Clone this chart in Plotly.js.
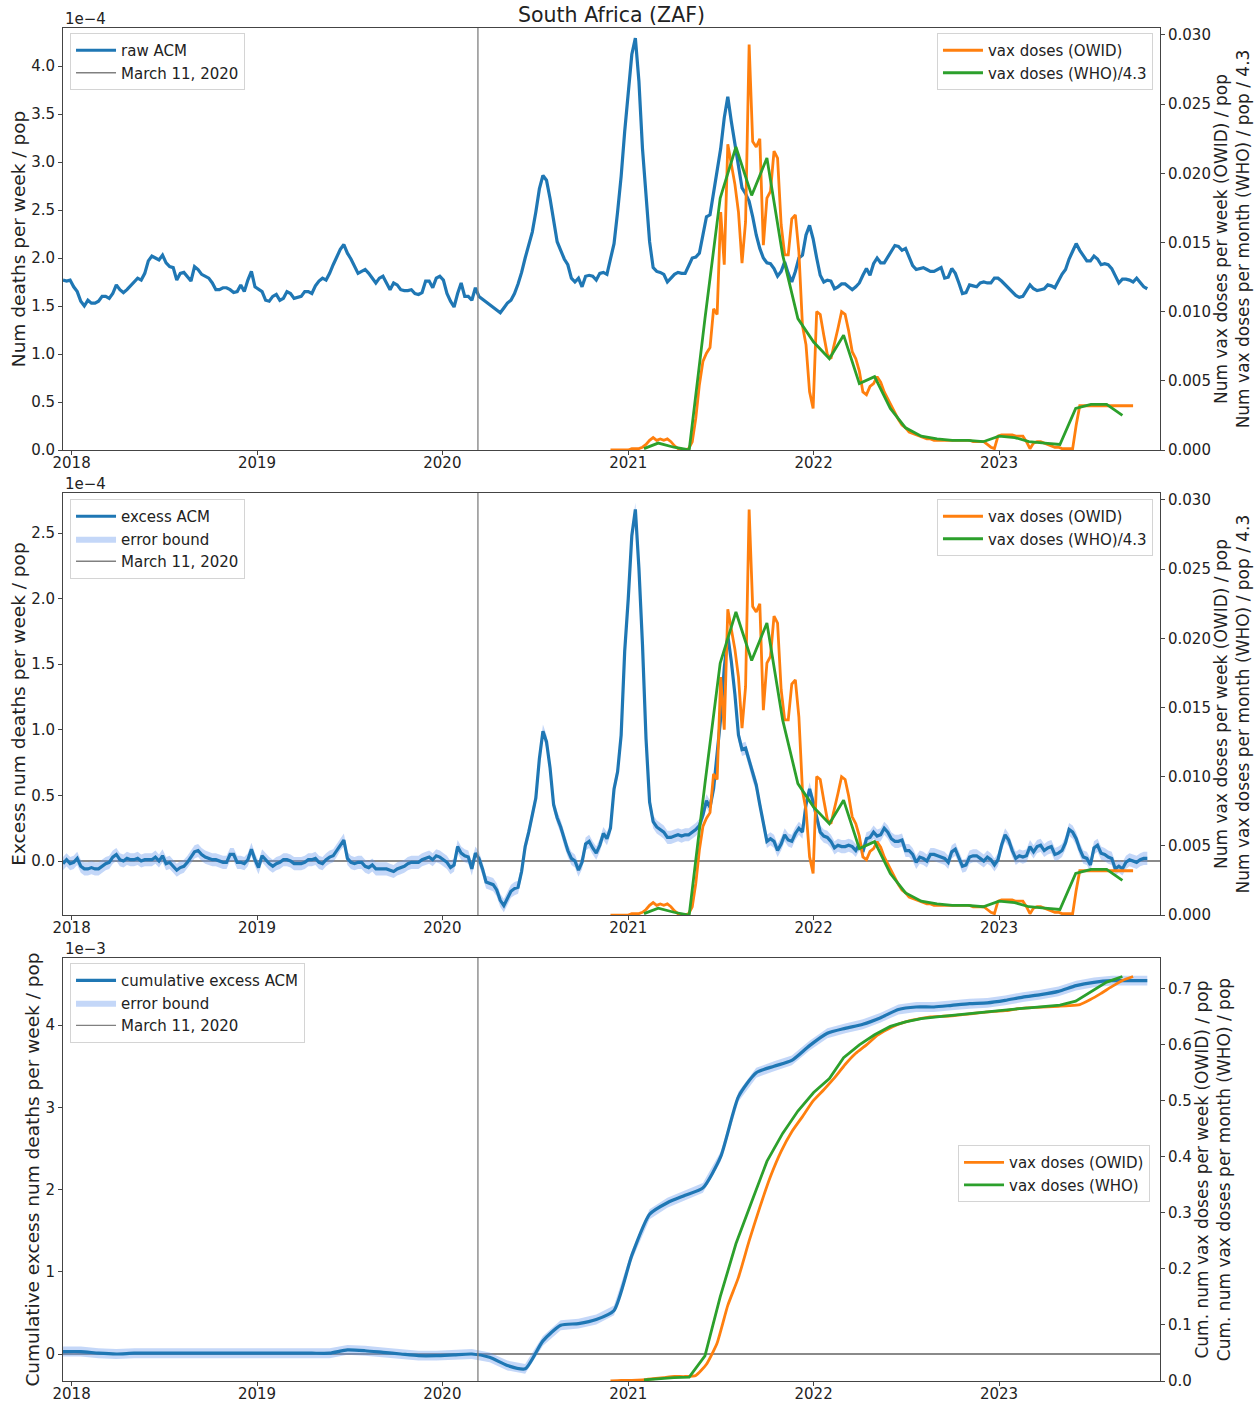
<!DOCTYPE html>
<html><head><meta charset="utf-8">
<script src="https://cdn.plot.ly/plotly-3.0.1.min.js"></script>
<style>html,body{margin:0;padding:0;background:#fff}#chart{width:1258px;height:1405px}</style>
</head><body><div id="chart"></div>
<script>
// ---------------- DATA ----------------
const countryTitle = 'South Africa (ZAF)';
const pandemicDate = '2020-03-11';
const weekStart = '2017-12-15';           // first weekly ACM point

// raw all-cause mortality per week / pop, units of 1e-4
const rawAcmE4 = [
1.77,1.76,1.77,1.70,1.65,1.55,1.50,1.56,1.53,1.53,
1.55,1.60,1.60,1.58,1.63,1.72,1.67,1.64,1.67,1.71,
1.76,1.79,1.77,1.84,1.97,2.02,2.00,1.98,2.03,1.95,
1.91,1.90,1.77,1.84,1.85,1.81,1.76,1.91,1.88,1.83,
1.81,1.79,1.74,1.67,1.67,1.69,1.69,1.67,1.64,1.65,
1.72,1.65,1.77,1.86,1.70,1.67,1.65,1.56,1.55,1.60,
1.62,1.56,1.58,1.65,1.63,1.58,1.59,1.60,1.65,1.65,
1.63,1.71,1.76,1.79,1.77,1.84,1.93,2.02,2.09,2.14,
2.05,1.99,1.91,1.84,1.86,1.88,1.84,1.79,1.74,1.79,
1.81,1.74,1.67,1.74,1.72,1.67,1.66,1.66,1.67,1.63,
1.62,1.64,1.76,1.76,1.69,1.79,1.81,1.77,1.63,1.55,
1.49,1.63,1.74,1.60,1.60,1.56,1.69,1.60,1.57,1.54,
1.51,1.49,1.46,1.43,1.48,1.53,1.56,1.63,1.73,1.85,
2.00,2.14,2.27,2.48,2.72,2.86,2.81,2.62,2.38,2.17,
2.08,1.99,1.93,1.79,1.75,1.79,1.70,1.81,1.82,1.81,
1.77,1.84,1.85,1.83,1.99,2.15,2.48,2.85,3.32,3.73,
4.12,4.29,3.84,3.14,2.62,2.17,1.90,1.86,1.85,1.83,
1.75,1.79,1.83,1.85,1.84,1.84,1.93,2.00,2.01,2.05,
2.24,2.43,2.45,2.69,2.90,3.14,3.46,3.68,3.42,3.18,
2.93,2.73,2.67,2.59,2.43,2.24,2.10,2.00,1.95,1.94,
1.89,1.81,1.86,1.96,1.84,1.75,1.86,2.00,2.03,2.24,
2.34,2.20,2.00,1.82,1.75,1.77,1.76,1.68,1.70,1.73,
1.73,1.70,1.67,1.70,1.74,1.82,1.89,1.82,1.94,2.00,
1.95,1.95,2.01,2.06,2.13,2.12,2.08,2.10,2.01,1.92,
1.88,1.89,1.90,1.88,1.86,1.86,1.88,1.90,1.79,1.80,
1.89,1.84,1.74,1.63,1.64,1.72,1.71,1.70,1.74,1.75,
1.74,1.74,1.79,1.79,1.76,1.72,1.68,1.65,1.61,1.59,
1.60,1.66,1.72,1.68,1.66,1.67,1.68,1.72,1.71,1.69,
1.77,1.83,1.88,1.99,2.07,2.15,2.08,2.02,1.97,1.97,
2.02,1.99,1.93,1.94,1.93,1.89,1.82,1.74,1.78,1.78,
1.77,1.75,1.79,1.75,1.70,1.68];

// excess ACM per week / pop, units of 1e-4
const excessAcmE4 = [
-0.02,0.01,-0.02,-0.01,0.02,-0.04,-0.06,-0.06,-0.05,-0.06,
-0.06,-0.04,-0.02,-0.01,0.03,0.05,0.01,0.00,0.02,0.01,
0.01,0.02,0.00,0.01,0.01,0.01,0.03,0.00,0.04,-0.02,
-0.01,-0.04,-0.07,-0.05,-0.04,-0.01,0.03,0.07,0.08,0.05,
0.03,0.02,0.01,0.01,0.00,-0.01,-0.01,0.05,0.05,-0.01,
-0.01,-0.02,0.01,0.09,0.01,-0.05,0.04,0.01,-0.02,-0.04,
-0.02,-0.01,0.01,0.01,0.00,-0.02,-0.02,-0.02,-0.01,0.01,
0.01,0.02,-0.01,-0.02,0.01,0.03,0.04,0.08,0.13,0.16,
0.02,-0.01,-0.02,-0.01,-0.01,-0.04,-0.05,-0.03,-0.06,-0.06,
-0.06,-0.06,-0.07,-0.08,-0.06,-0.05,-0.04,-0.02,-0.01,-0.01,
-0.01,0.01,0.02,0.03,0.01,0.04,0.03,0.01,-0.01,-0.05,
-0.03,0.11,0.06,0.04,0.03,-0.06,0.06,0.02,-0.06,-0.16,
-0.17,-0.18,-0.22,-0.30,-0.34,-0.28,-0.23,-0.21,-0.20,-0.08,
0.11,0.22,0.34,0.48,0.78,0.99,0.91,0.71,0.43,0.33,
0.26,0.16,0.08,0.02,0.00,-0.07,-0.01,0.13,0.15,0.10,
0.06,0.12,0.21,0.17,0.25,0.55,0.68,0.96,1.60,2.00,
2.48,2.68,2.23,1.65,0.93,0.45,0.30,0.26,0.24,0.22,
0.18,0.18,0.19,0.20,0.19,0.20,0.20,0.22,0.24,0.27,
0.35,0.46,0.41,0.55,0.80,1.09,1.47,1.72,1.52,1.27,
0.96,0.85,0.86,0.76,0.66,0.58,0.43,0.29,0.15,0.17,
0.15,0.08,0.13,0.20,0.16,0.15,0.21,0.25,0.22,0.43,
0.55,0.45,0.33,0.22,0.19,0.18,0.15,0.10,0.12,0.11,
0.11,0.12,0.11,0.08,0.13,0.07,0.17,0.18,0.22,0.19,
0.20,0.25,0.22,0.17,0.15,0.15,0.16,0.08,0.08,0.05,
-0.01,0.03,0.02,0.00,0.05,0.05,0.04,0.03,0.02,-0.01,
0.07,0.09,0.03,-0.04,-0.03,0.03,0.04,0.04,0.02,0.00,
0.03,0.01,-0.03,0.01,0.12,0.20,0.16,0.08,0.02,0.04,
0.03,0.04,0.11,0.07,0.11,0.12,0.08,0.10,0.11,0.05,
0.06,0.08,0.14,0.24,0.22,0.17,0.09,0.03,0.02,-0.03,
0.10,0.12,0.06,0.05,0.03,0.02,-0.06,-0.04,-0.06,-0.01,
0.01,0.00,-0.01,0.01,0.02,0.02];
const excessErrE4 = 0.05;   // half-width of the error bound

// cumulative excess ACM, units of 1e-3, every 5 weeks from weekStart
const cumStepWeeks = 5;
const cumExcessE3 = [
0.03,0.03,0.01,0.00,0.01,0.01,0.01,0.01,0.01,0.01,
0.01,0.01,0.01,0.01,0.01,0.01,0.05,0.04,0.02,0.00,
-0.02,-0.02,-0.01,0.00,-0.04,-0.14,-0.18,0.16,0.35,0.37,
0.42,0.53,1.20,1.70,1.84,1.93,2.02,2.40,3.13,3.42,
3.50,3.57,3.75,3.90,3.96,4.01,4.09,4.19,4.22,4.22,
4.24,4.26,4.27,4.30,4.34,4.37,4.41,4.48,4.52,4.54,
4.54,4.54];
const cumErrE3 = 0.06;

// OWID weekly vax doses / pop, from week offset 154
const owidOffsetWeeks = 154;
const vaxOwidWeekly = [
0,0,0,0,0,0,0.0001,0.0001,0.0001,0.0002,
0.0004,0.0007,0.0009,0.0007,0.0008,0.0007,0.0008,0.0006,0.0003,0.0001,
0,0,0.0001,0.0006,0.0023,0.0047,0.0064,0.0070,0.0074,0.0102,
0.0098,0.0172,0.0134,0.0221,0.0206,0.0192,0.0172,0.0135,0.0165,0.0293,
0.0223,0.0219,0.0225,0.0148,0.0182,0.0187,0.0216,0.0211,0.0163,0.0141,
0.0141,0.0167,0.0170,0.0143,0.0090,0.0076,0.0042,0.0030,0.0100,0.0098,
0.0083,0.0069,0.0066,0.0076,0.0088,0.0100,0.0098,0.0086,0.0071,0.0066,
0.0057,0.0042,0.0040,0.0046,0.0048,0.0053,0.0049,0.0042,0.0037,0.0031,
0.0027,0.0022,0.0018,0.0016,0.0013,0.0012,0.0011,0.0010,0.0009,0.0008,
0.0008,0.0007,0.0007,0.0007,0.0007,0.0007,0.0007,0.0007,0.0007,0.0007,
0.0007,0.0007,0.0006,0.0006,0.0006,0.0006,0.0004,0.0002,0.0001,0.0010,
0.0011,0.0011,0.0011,0.0011,0.0010,0.0010,0.0010,0.0006,0.0001,0.0005,
0.0006,0.0006,0.0005,0.0004,0.0003,0.0002,0.0002,0.0001,0.0001,0.0001,
0.0001,0.0018,0.0032,0.0032,0.0032,0.0032,0.0032,0.0032,0.0032,0.0032,
0.0032,0.0032,0.0032,0.0032,0.0032,0.0032,0.0032,0.0032];

// WHO monthly vax doses / pop / 4.3, month starts from Feb 2021
const whoStartYear = 2021, whoStartMonth = 2;
const vaxWhoMonthlyDiv43 = [
0.0001,0.0005,0.0002,0.0000,0.0095,0.0182,0.0219,0.0184,0.0211,0.0141,0.0095,
0.0078,0.0066,0.0083,0.0048,0.0053,0.0030,0.0016,0.0010,0.0008,0.0007,0.0007,0.0006,
0.0010,0.0009,0.0006,0.0005,0.0004,0.0030,0.0033,0.0033,0.0025];

// cumulative vax doses / pop
const cumOwidStepWeeks = 3;
const cumVaxOwid = [
0.000,0.001,0.001,0.002,0.004,0.006,0.008,0.008,0.010,0.030,
0.068,0.135,0.185,0.250,0.310,0.365,0.410,0.445,0.472,0.500,
0.520,0.541,0.565,0.585,0.600,0.617,0.628,0.637,0.643,0.647,
0.650,0.651,0.652,0.654,0.656,0.658,0.660,0.661,0.664,0.666,
0.667,0.668,0.669,0.670,0.672,0.681,0.692,0.704,0.715,0.722];
const cumVaxWho = [
0.002,0.004,0.006,0.007,0.045,0.150,0.245,0.320,0.392,0.442,0.482,
0.515,0.540,0.577,0.600,0.618,0.633,0.641,0.647,0.650,0.653,0.656,0.658,
0.661,0.664,0.666,0.669,0.671,0.678,0.695,0.712,0.722];

// ---------------- helpers ----------------
function addDays(iso, days){ const d = new Date(iso + 'T00:00:00Z'); d.setUTCDate(d.getUTCDate() + days); return d.toISOString().slice(0,10); }
function weeklyDates(offsetWeeks, count, step){ const o=[]; for(let k=0;k<count;k++) o.push(addDays(weekStart, (offsetWeeks + k*step)*7)); return o; }
function monthStarts(y, m, count){ const o=[]; for(let k=0;k<count;k++){ const d=new Date(Date.UTC(y, m-1+k, 1)); o.push(d.toISOString().slice(0,10)); } return o; }

const acmDates = weeklyDates(0, rawAcmE4.length, 1);
const cumDates = weeklyDates(0, cumExcessE3.length, cumStepWeeks);
const owidDates = weeklyDates(owidOffsetWeeks, vaxOwidWeekly.length, 1);
const owidCumDates = weeklyDates(owidOffsetWeeks, cumVaxOwid.length, cumOwidStepWeeks);
const whoDates = monthStarts(whoStartYear, whoStartMonth, vaxWhoMonthlyDiv43.length);
const whoCumDates = monthStarts(whoStartYear, whoStartMonth, cumVaxWho.length);

// ---------------- style ----------------
const FONT = 'DejaVu Sans';
const C_BLUE = '#1f77b4', C_ORANGE = '#ff7f0e', C_GREEN = '#2ca02c', C_VLINE = '#808080';
const BAND = 'rgba(100,149,237,0.38)';
const X_RANGE = ['2017-12-15', '2023-11-14'];
const R1 = [0, 4.396], R1b = [0, 0.0305];
const R2 = [-0.4116, 2.805], R2b = [0, 0.0305];
const R3 = [-0.328, 4.815], R3b = [0, 0.755];

function band(x, y, err){
  const up = y.map(v => v + err), lo = y.map(v => v - err);
  return { x: x.concat(x.slice().reverse()), y: up.concat(lo.reverse()) };
}
const b2 = band(acmDates, excessAcmE4, excessErrE4);
const b3 = band(cumDates, cumExcessE3, cumErrE3);

const traces = [
  // panel 1
  {x: acmDates, y: rawAcmE4, xaxis:'x', yaxis:'y', mode:'lines', name:'raw ACM', line:{color:C_BLUE, width:3.2}, legend:'legend', legendrank:1},
  {x: [pandemicDate, pandemicDate], y: R1, xaxis:'x', yaxis:'y', mode:'lines', name:'March 11, 2020', line:{color:C_VLINE, width:1.3}, legend:'legend', legendrank:2},
  {x: owidDates, y: vaxOwidWeekly, xaxis:'x', yaxis:'y2', mode:'lines', name:'vax doses (OWID)', line:{color:C_ORANGE, width:2.8}, legend:'legend2', legendrank:1},
  {x: whoDates, y: vaxWhoMonthlyDiv43, xaxis:'x', yaxis:'y2', mode:'lines', name:'vax doses (WHO)/4.3', line:{color:C_GREEN, width:2.8}, legend:'legend2', legendrank:2},
  // panel 2
  {x: b2.x, y: b2.y, xaxis:'x2', yaxis:'y3', mode:'lines', fill:'toself', fillcolor:BAND, line:{width:0, color:BAND}, name:'error bound', legend:'legend3', legendrank:2, hoverinfo:'skip'},
  {x: acmDates, y: excessAcmE4, xaxis:'x2', yaxis:'y3', mode:'lines', name:'excess ACM', line:{color:C_BLUE, width:3.2}, legend:'legend3', legendrank:1},
  {x: [pandemicDate, pandemicDate], y: R2, xaxis:'x2', yaxis:'y3', mode:'lines', name:'March 11, 2020', line:{color:C_VLINE, width:1.3}, legend:'legend3', legendrank:3},
  {x: owidDates, y: vaxOwidWeekly, xaxis:'x2', yaxis:'y4', mode:'lines', name:'vax doses (OWID)', line:{color:C_ORANGE, width:2.8}, legend:'legend4', legendrank:1},
  {x: whoDates, y: vaxWhoMonthlyDiv43, xaxis:'x2', yaxis:'y4', mode:'lines', name:'vax doses (WHO)/4.3', line:{color:C_GREEN, width:2.8}, legend:'legend4', legendrank:2},
  // panel 3
  {x: b3.x, y: b3.y, xaxis:'x3', yaxis:'y5', mode:'lines', fill:'toself', fillcolor:BAND, line:{width:0, color:BAND}, name:'error bound', legend:'legend5', legendrank:2, hoverinfo:'skip'},
  {x: cumDates, y: cumExcessE3, xaxis:'x3', yaxis:'y5', mode:'lines', line:{color:C_BLUE, width:3.2, shape:'spline', smoothing:0.6}, name:'cumulative excess ACM', legend:'legend5', legendrank:1},
  {x: [pandemicDate, pandemicDate], y: R3, xaxis:'x3', yaxis:'y5', mode:'lines', name:'March 11, 2020', line:{color:C_VLINE, width:1.3}, legend:'legend5', legendrank:3},
  {x: owidCumDates, y: cumVaxOwid, xaxis:'x3', yaxis:'y6', mode:'lines', name:'vax doses (OWID)', line:{color:C_ORANGE, width:2.8, shape:'spline', smoothing:0.5}, legend:'legend6', legendrank:1},
  {x: whoCumDates, y: cumVaxWho, xaxis:'x3', yaxis:'y6', mode:'lines', name:'vax doses (WHO)', line:{color:C_GREEN, width:2.8}, legend:'legend6', legendrank:2}
];

const tickFont = {family: FONT, size: 15, color: '#222'};
const leftTitleFont = {family: FONT, size: 18.5, color: '#222'};
const rightTitleFont = {family: FONT, size: 17, color: '#222'};
const AXC = '#444';
function xAx(anchor){
  return {type:'date', anchor, domain:[0,1], range:X_RANGE, tick0:'2018-01-01', dtick:'M12', tickformat:'%Y',
    ticks:'outside', ticklen:4, tickcolor:AXC, ticklabelstandoff:-5, showline:true, linecolor:AXC, linewidth:1, mirror:true,
    showgrid:false, zeroline:false, tickfont:tickFont};
}
function yLeft(anchor, domain, range, dtick, fmt, title, zl, standoff){
  return {anchor, domain, range, dtick, tickformat:fmt, ticks:'outside', ticklen:4, tickcolor:AXC,
    showline:true, linecolor:AXC, linewidth:1, mirror:true, showgrid:false,
    zeroline:zl, zerolinecolor:'#8a8a8a', zerolinewidth:1.2, tickfont:tickFont,
    title:{text:title, font:leftTitleFont, standoff}};
}
function yRight(anchor, over, range, dtick, fmt, title, standoff){
  return {anchor, overlaying:over, side:'right', range, dtick, tickformat:fmt, ticks:'outside', ticklen:4, tickcolor:AXC,
    showline:true, linecolor:AXC, linewidth:1, showgrid:false, zeroline:false, tickfont:tickFont,
    title:{text:title, font:rightTitleFont, standoff}};
}
const rightTitle = 'Num vax doses per week (OWID) / pop<br>Num vax doses per month (WHO) / pop / 4.3';
const rightTitle3 = 'Cum. num vax doses per week (OWID) / pop<br>Cum. num vax doses per month (WHO) / pop';

const legBase = {bgcolor:'rgba(255,255,255,0.85)', bordercolor:'#d4d4d4', borderwidth:1,
  font:{family:FONT, size:15, color:'#222'}, yanchor:'top', traceorder:'normal', itemwidth:40};

const D1 = [0.6881, 1], D2 = [0.3444, 0.6563], D3 = [0, 0.3126];

const layout = {
  width:1258, height:1405, paper_bgcolor:'#fff', plot_bgcolor:'#fff',
  margin:{l:63, r:98, t:28, b:24},
  font:{family:FONT, color:'#222'},
  showlegend:true,
  title:{text:countryTitle, x:0.5, xref:'paper', xanchor:'center', y:1-15/1405, yref:'container', yanchor:'middle', font:{family:FONT, size:20.5, color:'#222'}},
  xaxis: xAx('y'), xaxis2: xAx('y3'), xaxis3: xAx('y5'),
  yaxis:  yLeft('x',  D1, R1, 0.5, '.1f', 'Num deaths per week / pop', false, 0),
  yaxis2: yRight('x', 'y', R1b, 0.005, '.3f', rightTitle, 4),
  yaxis3: yLeft('x2', D2, R2, 0.5, '.1f', 'Excess num deaths per week / pop', true, 0),
  yaxis4: yRight('x2', 'y3', R2b, 0.005, '.3f', rightTitle, 4),
  yaxis5: yLeft('x3', D3, R3, 1, 'd', 'Cumulative excess num deaths per week / pop', true, 0),
  yaxis6: yRight('x3', 'y5', R3b, 0.1, '.1f', rightTitle3, 4),
  legend:  Object.assign({}, legBase, {x:0.0064, y:0.9963, xanchor:'left'}),
  legend2: Object.assign({}, legBase, {x:0.9936, y:0.9963, xanchor:'right'}),
  legend3: Object.assign({}, legBase, {x:0.0064, y:0.6519, xanchor:'left'}),
  legend4: Object.assign({}, legBase, {x:0.9936, y:0.6519, xanchor:'right'}),
  legend5: Object.assign({}, legBase, {x:0.0064, y:0.3089, xanchor:'left'}),
  legend6: Object.assign({}, legBase, {x:0.9909, y:0.1744, xanchor:'right'}),
  annotations: [
    {text:'1e\u22124', xref:'paper', yref:'paper', x:0, y:D1[1], xanchor:'left', yanchor:'bottom', yshift:-2, showarrow:false, font:{family:FONT, size:15, color:'#222'}},
    {text:'1e\u22124', xref:'paper', yref:'paper', x:0, y:D2[1], xanchor:'left', yanchor:'bottom', yshift:-2, showarrow:false, font:{family:FONT, size:15, color:'#222'}},
    {text:'1e\u22123', xref:'paper', yref:'paper', x:0, y:D3[1], xanchor:'left', yanchor:'bottom', yshift:-2, showarrow:false, font:{family:FONT, size:15, color:'#222'}}
  ]
};

Plotly.newPlot('chart', traces, layout, {displayModeBar:false, staticPlot:true});
</script></body></html>
